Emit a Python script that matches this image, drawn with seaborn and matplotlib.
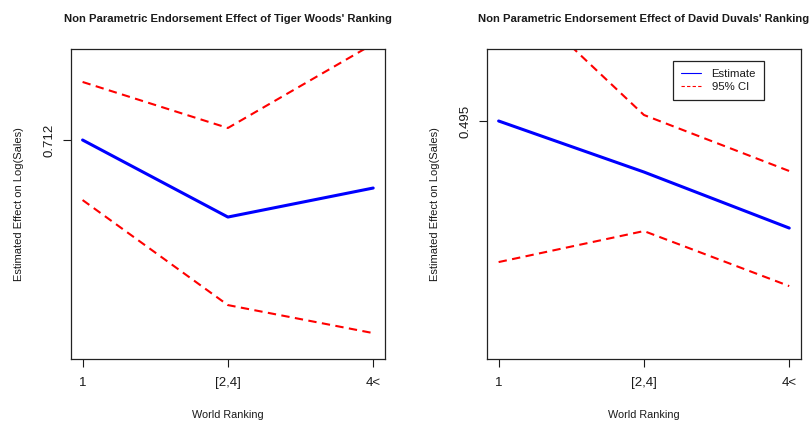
import numpy as np
import pandas as pd
import matplotlib
matplotlib.use("Agg")
import matplotlib.pyplot as plt
import seaborn as sns
from matplotlib.lines import Line2D

# ── Data ──────────────────────────────────────────────────────────────────────
rank_labels = ["1", "[2,4]", "4<"]

tiger_est   = [0.712, 0.635, 0.664]
tiger_upper = [0.770, 0.724, 0.808]
tiger_lower = [0.652, 0.547, 0.519]

duval_est   = [0.495, 0.444, 0.388]
duval_upper = [0.638, 0.501, 0.445]
duval_lower = [0.354, 0.385, 0.330]

# ── Style ─────────────────────────────────────────────────────────────────────
sns.set_style("white")
plt.rcParams["font.family"] = ["Liberation Sans", "DejaVu Sans"]
plt.rcParams["text.color"] = "#1a1a1a"
plt.rcParams["axes.labelcolor"] = "#1a1a1a"
plt.rcParams["xtick.color"] = "#1a1a1a"
plt.rcParams["ytick.color"] = "#1a1a1a"

fig = plt.figure(figsize=(8.11, 4.22), dpi=100)
ax1 = fig.add_axes([0.0875, 0.149, 0.387, 0.735])
ax2 = fig.add_axes([0.6005, 0.149, 0.387, 0.735])

panels = [
    (ax1, "Non Parametric Endorsement Effect of Tiger Woods' Ranking",
     tiger_est, tiger_upper, tiger_lower, (0.493, 0.803), [0.712]),
    (ax2, "Non Parametric Endorsement Effect of David Duvals' Ranking",
     duval_est, duval_upper, duval_lower, (0.257, 0.567), [0.495]),
]

pos = np.arange(len(rank_labels))
dash = (0, (4, 2.6))

for ax, title, est, up, lo, ylim, yt in panels:
    df = pd.DataFrame({"pos": pos, "est": est, "upper": up, "lower": lo})
    sns.lineplot(data=df, x="pos", y="upper", ax=ax, color="red",
                 linewidth=1.5, linestyle=dash, errorbar=None)
    sns.lineplot(data=df, x="pos", y="lower", ax=ax, color="red",
                 linewidth=1.5, linestyle=dash, errorbar=None)
    sns.lineplot(data=df, x="pos", y="est", ax=ax, color="blue",
                 linewidth=2.2, errorbar=None)
    ax.set_xlim(-0.08, 2.08)
    ax.set_ylim(*ylim)
    ax.set_xticks(pos)
    ax.set_xticklabels(rank_labels)
    ax.set_yticks(yt)
    ax.set_yticklabels([f"{v:.3f}" for v in yt], rotation=90, va="center")
    ax.tick_params(axis="both", bottom=True, left=True, direction="out",
                   length=5.8, width=0.8, labelsize=9.5, pad=7)
    ax.tick_params(axis="y", pad=5.5)
    for s in ax.spines.values():
        s.set_color("#222222")
        s.set_linewidth(0.9)
    ax.set_title(title, fontsize=8.1, fontweight="bold", pad=19.5)
    ax.set_xlabel("World Ranking", fontsize=7.8, labelpad=15.5)
    ax.set_ylabel("Estimated Effect on Log(Sales)", fontsize=8, labelpad=14)

handles = [Line2D([0], [0], color="blue", linewidth=0.8),
           Line2D([0], [0], color="red", linewidth=0.8, linestyle=(0, (3, 2)))]
leg = ax2.legend(handles, ["Estimate", "95% CI"], loc="upper left",
                 bbox_to_anchor=(0.592, 0.961), borderaxespad=0, fontsize=8.2,
                 fancybox=False, framealpha=1, edgecolor="#222222",
                 handlelength=1.8, handletextpad=0.9, labelspacing=0.3,
                 borderpad=0.7)
leg.get_frame().set_linewidth(0.9)

plt.savefig("out.png", dpi=100)
